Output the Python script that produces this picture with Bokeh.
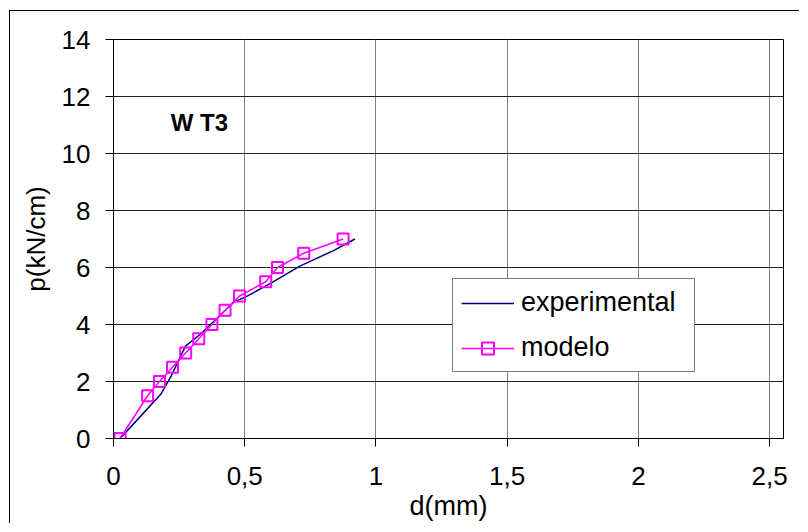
from bokeh.plotting import figure
from bokeh.models import Range1d, FixedTicker, Legend, LegendItem, Label
from bokeh.embed import file_html
from bokeh.resources import INLINE

# data
exp_d = [0.025, 0.10, 0.18, 0.22, 0.275, 0.33, 0.37, 0.46, 0.50, 0.60, 0.71, 0.84, 0.92]
exp_p = [0.0, 0.75, 1.55, 2.2, 3.25, 3.65, 4.0, 4.8, 4.95, 5.45, 6.05, 6.6, 7.0]

mod_d = [0.025, 0.13, 0.175, 0.225, 0.275, 0.325, 0.375, 0.425, 0.48, 0.58, 0.625, 0.725, 0.875]
mod_p = [0.0, 1.5, 2.0, 2.5, 3.0, 3.5, 4.0, 4.5, 5.0, 5.5, 6.0, 6.5, 7.0]

x_ticks = [0, 0.5, 1, 1.5, 2, 2.5]
x_tick_labels = ["0", "0,5", "1", "1,5", "2", "2,5"]
y_ticks = [0, 2, 4, 6, 8, 10, 12, 14]

FONT = "Liberation Sans"

p = figure(width=790, height=513, output_backend="svg", toolbar_location=None,
           x_range=Range1d(0, 2.553), y_range=Range1d(0, 14),
           min_border_left=103, min_border_top=28, min_border_right=17, min_border_bottom=86)
p.styles = {"border-left": "1px solid black", "border-top": "1px solid black",
            "margin-left": "9px", "margin-top": "10px"}

p.background_fill_color = "white"
p.border_fill_color = "white"
p.outline_line_color = "black"
p.outline_line_width = 1

p.xaxis.ticker = FixedTicker(ticks=x_ticks)
p.xaxis.major_label_overrides = {t: l for t, l in zip(x_ticks, x_tick_labels)}
p.yaxis.ticker = FixedTicker(ticks=y_ticks)

for ax in (p.xaxis, p.yaxis):
    ax.axis_line_color = "black"
    ax.major_tick_line_color = "black"
    ax.major_tick_out = 8
    ax.major_tick_in = 0
    ax.minor_tick_line_color = None
    ax.major_label_text_font = FONT
    ax.major_label_text_font_size = "26px"
    ax.major_label_text_color = "black"
    ax.axis_label_text_font = FONT
    ax.axis_label_text_font_size = "26px"
    ax.axis_label_text_font_style = "normal"
    ax.axis_label_text_color = "black"

p.xaxis.axis_label = "d(mm)"
p.yaxis.axis_label = "p(kN/cm)"
p.xaxis.axis_label_text_font_size = "27px"
p.xaxis.major_label_standoff = 20
p.yaxis.major_label_standoff = 15
p.xaxis.axis_label_standoff = 3
p.yaxis.axis_label_standoff = 8

p.xgrid.ticker = FixedTicker(ticks=x_ticks)
p.ygrid.ticker = FixedTicker(ticks=y_ticks)
p.xgrid.grid_line_color = "#808080"
p.ygrid.grid_line_color = "#222222"
p.xgrid.grid_line_width = 1
p.ygrid.grid_line_width = 1

r_exp = p.line(exp_d, exp_p, line_color="#000080", line_width=1.5)
r_mod_line = p.line(mod_d, mod_p, line_color="#FF00FF", line_width=1.5)
r_mod_pts = p.scatter(mod_d, mod_p, marker="square", size=11, line_color="#FF00FF",
                      line_width=2, fill_alpha=0)

title = Label(x=0.218, y=11.09, text="W T3", text_font=FONT, text_font_size="24px",
              text_font_style="bold", text_color="black", text_baseline="middle",
              text_align="left")
p.add_layout(title)

legend = Legend(items=[LegendItem(label="experimental", renderers=[r_exp]),
                       LegendItem(label="modelo", renderers=[r_mod_line, r_mod_pts])],
                location=(339, 66), orientation="vertical")
legend.label_text_font = FONT
legend.label_text_font_size = "27px"
legend.label_text_color = "black"
legend.glyph_width = 53
legend.glyph_height = 30
legend.label_height = 30
legend.label_width = 165
legend.label_standoff = 7
legend.spacing = 14
legend.padding = 8
legend.margin = 0
legend.border_line_color = "black"
legend.border_line_width = 1
legend.background_fill_color = "white"
legend.background_fill_alpha = 1
p.add_layout(legend, "center")

open("out.html", "w").write(file_html(p, INLINE))
